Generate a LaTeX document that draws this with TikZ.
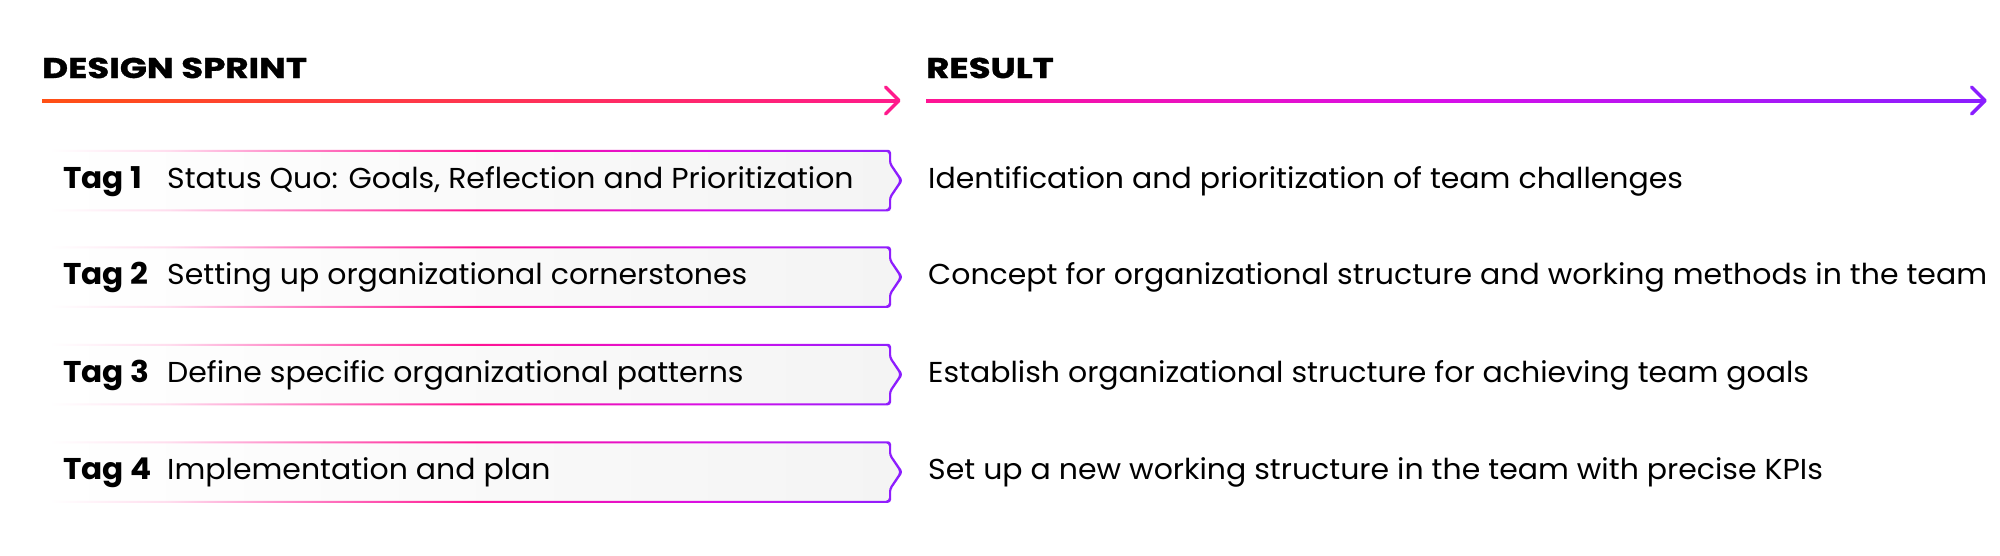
\documentclass[tikz,border=0pt]{standalone}
\usepackage{fontspec}
\setmainfont{Poppins}[FakeStretch=1.04]
\newfontfamily\headfont{Poppins}[FakeStretch=1.25,FakeBold=1.2]
\usetikzlibrary{calc}
\definecolor{orng}{HTML}{FF5014}
\definecolor{pinkA}{HTML}{FF1A8C}
\definecolor{pinkB}{HTML}{FF1493}
\definecolor{pinkC}{HTML}{FF8AC9}
\definecolor{pinkD}{HTML}{FFDDEE}
\definecolor{mag}{HTML}{D80FE8}
\definecolor{purp}{HTML}{8A1EFF}
\definecolor{boxgray}{HTML}{F4F4F4}
\pgfdeclarehorizontalshading{arrowone}{100bp}{color(0bp)=(orng); color(25bp)=(orng); color(75bp)=(pinkA); color(100bp)=(pinkA)}
\pgfdeclarehorizontalshading{arrowtwo}{100bp}{color(0bp)=(pinkB); color(25bp)=(pinkB); color(49bp)=(mag); color(75bp)=(purp); color(100bp)=(purp)}
\pgfdeclarehorizontalshading{boxstroke}{100bp}{color(0bp)=(white); color(25bp)=(white); color(32bp)=(pinkD); color(39bp)=(pinkC); color(50bp)=(pinkB); color(64bp)=(mag); color(75bp)=(purp); color(100bp)=(purp)}
\tikzset{
  txt/.style={anchor=base west, inner sep=0pt, text=black, font=\fontsize{28.8}{31}\selectfont},
  tagtxt/.style={txt, font=\fontsize{30}{32}\selectfont\bfseries},
  headtxt/.style={anchor=base west, inner sep=0pt, text=black, font=\fontsize{28.5}{30}\headfont\bfseries},
  boxnode/.style={rectangle, inner sep=0pt, minimum width=840pt, minimum height=59.5pt},
  chev/.style={line width=3.5pt, line cap=round, line join=round},
}
% #1 name, #2 center y
\newcommand{\mytagbox}[2]{%
  \node[boxnode] (#1) at (470,#2) {};
  % fill
  \shade[left color=white, right color=boxgray, rounded corners=3pt]
    (50,#2-29.75) -- (890,#2-29.75) -- (890,#2-17) -- (901.5,#2) -- (890,#2+17)
    -- (890,#2+29.75) -- (50,#2+29.75) -- cycle;
  % gradient stroke as ring
  \shade[shading=boxstroke, even odd rule, rounded corners=3pt]
    (50,#2-30.75) -- (891,#2-30.75) -- (891,#2-17.5) -- (903,#2) -- (891,#2+17.5)
    -- (891,#2+30.75) -- (50,#2+30.75) -- cycle
    (50,#2-28.75) -- (889,#2-28.75) -- (889,#2-16.5) -- (900,#2) -- (889,#2+16.5)
    -- (889,#2+28.75) -- (50,#2+28.75) -- cycle;
}
\begin{document}
\begin{tikzpicture}[x=1pt,y=-1pt]
\useasboundingbox[fill=white] (0,0) rectangle (2000,555);
% headers
\node[headtxt] (h1) at (42,78) {DESIGN SPRINT};
\node[headtxt] (h2) at (926,78) {RESULT};
% arrows
\coordinate (a1s) at (42,100.5);
\coordinate (a1e) at (899,100.5);
\coordinate (a2s) at (926,100.5);
\coordinate (a2e) at (1985,100.5);
\shade[shading=arrowone] ($(a1s)+(0,-1.5)$) rectangle ($(a1e)+(0,1.5)$);
\draw[chev, pinkA] ($(a1e)+(-13.5,-13.5)$) -- (a1e) -- ($(a1e)+(-13.5,13.5)$);
\shade[shading=arrowtwo] ($(a2s)+(0,-1.5)$) rectangle ($(a2e)+(0,1.5)$);
\draw[chev, purp] ($(a2e)+(-13.5,-13.5)$) -- (a2e) -- ($(a2e)+(-13.5,13.5)$);
% boxes
\mytagbox{b1}{180.5}
\mytagbox{b2}{277}
\mytagbox{b3}{374.5}
\mytagbox{b4}{472}
% tag texts
\node[tagtxt] (t1) at (63,188) {Tag 1};
\node[txt] (d1) at (167,188) {Status Quo: Goals, Reflection and Prioritization};
\node[txt] (r1) at (928,188) {Identification and prioritization of team challenges};
\node[tagtxt] (t2) at (63,284.5) {Tag 2};
\node[txt] (d2) at (167,284.5) {Setting up organizational cornerstones};
\node[txt] (r2) at (928,284.5) {Concept for organizational structure and working methods in the team};
\node[tagtxt] (t3) at (63,382) {Tag 3};
\node[txt] (d3) at (167,382) {Define specific organizational patterns};
\node[txt] (r3) at (928,382) {Establish organizational structure for achieving team goals};
\node[tagtxt] (t4) at (63,479.5) {Tag 4};
\node[txt] (d4) at (167,479.5) {Implementation and plan};
\node[txt] (r4) at (928,479.5) {Set up a new working structure in the team with precise KPIs};
\end{tikzpicture}
\end{document}
